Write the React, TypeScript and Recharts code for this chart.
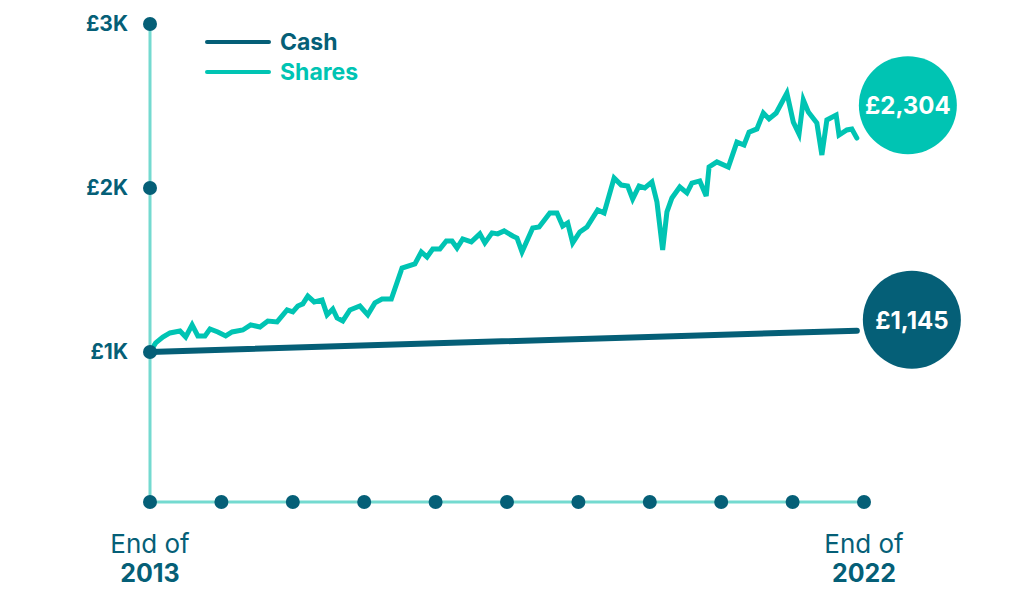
import { LineChart, Line, XAxis, YAxis, Legend } from 'recharts'

const DARK = '#055f77'
const TEAL = '#00c4b3'
const AXIS = '#74dad0'
const FONT = 'Inter, "Open Sans", sans-serif'

// x positions are in "dot" units: 0 = end of 2013, 10 = last axis dot
const sharesT = [
  0, 0.08, 0.18, 0.28, 0.42, 0.5, 0.59, 0.67, 0.77, 0.84, 0.95, 1.06, 1.15, 1.3, 1.41, 1.54, 1.65, 1.78, 1.92, 2.0,
  2.07, 2.14, 2.21, 2.3, 2.41, 2.48, 2.56, 2.62, 2.7, 2.8, 2.94, 3.05, 3.15, 3.25, 3.38, 3.53, 3.71, 3.8, 3.88, 3.96,
  4.06, 4.15, 4.23, 4.3, 4.38, 4.5, 4.62, 4.69, 4.79, 4.87, 4.96, 5.08, 5.14, 5.21, 5.36, 5.45, 5.6, 5.7, 5.78, 5.85,
  5.92, 6.02, 6.12, 6.27, 6.36, 6.5, 6.6, 6.69, 6.76, 6.85, 6.93, 7.03, 7.1, 7.18, 7.24, 7.31, 7.42, 7.52, 7.59, 7.7,
  7.79, 7.83, 7.94, 8.1, 8.22, 8.32, 8.39, 8.5, 8.59, 8.67, 8.77, 8.92, 9.01, 9.09, 9.15, 9.22, 9.34, 9.41, 9.48, 9.61,
  9.65, 9.76, 9.83, 9.9,
]
const sharesV = [
  1000, 1055, 1091, 1116, 1128, 1091, 1165, 1098, 1098, 1140, 1122, 1098, 1122, 1134, 1165, 1152, 1189, 1183, 1256, 1244,
  1280, 1293, 1341, 1305, 1317, 1226, 1262, 1207, 1189, 1256, 1280, 1226, 1299, 1323, 1323, 1512, 1537, 1610, 1579, 1628,
  1628, 1677, 1677, 1634, 1689, 1671, 1720, 1665, 1726, 1720, 1738, 1707, 1695, 1610, 1756, 1762, 1848, 1848, 1768, 1787,
  1665, 1732, 1762, 1866, 1848, 2061, 2018, 2012, 1933, 2012, 2000, 2037, 1915, 1622, 1854, 1939, 2006, 1970, 2030, 2043,
  1951, 2128, 2159, 2128, 2280, 2262, 2341, 2360, 2457, 2421, 2457, 2579, 2402, 2329, 2537, 2463, 2396, 2201, 2415, 2445,
  2323, 2354, 2360, 2304,
]
const cashT = [0, 9.9]
const cashV = [1000, 1130]

const xTicks = [0, 1, 2, 3, 4, 5, 6, 7, 8, 9, 10]
const yTicks = [1000, 2000, 3000]
const yLabels = ['£1K', '£2K', '£3K']
const endYears = ['2013', '2022']
const endLabels = ['£2,304', '£1,145']

const sharesData = sharesT.map((t, i) => ({ t, v: sharesV[i] }))
const cashData = cashT.map((t, i) => ({ t, v: cashV[i] }))

function XTick(props: any) {
  const { x, y, index } = props
  const last = index === xTicks.length - 1
  return (
    <g>
      <circle cx={x} cy={y} r={7} fill={DARK} />
      {(index === 0 || last) && (
        <text x={x} textAnchor="middle" fill={DARK} fontFamily={FONT}>
          <tspan x={x} y={y + 51} fontSize={26}>End of</tspan>
          <tspan x={x} y={y + 80} fontSize={25} fontWeight={700}>{endYears[last ? 1 : 0]}</tspan>
        </text>
      )}
    </g>
  )
}

function YTick(props: any) {
  const { x, y, index } = props
  return (
    <g>
      <circle cx={x} cy={y} r={7} fill={DARK} />
      <text x={x - 22} y={y + 7} textAnchor="end" fill={DARK} fontFamily={FONT} fontSize={21} fontWeight={700}>
        {yLabels[index]}
      </text>
    </g>
  )
}

function endBubble(text: string, color: string, dx: number, dy: number, count: number) {
  return (props: any) => {
    const { x, y, index } = props
    if (index !== count - 1) return null
    return (
      <g>
        <circle cx={x + dx} cy={y + dy} r={49} fill={color} />
        <text x={x + dx} y={y + dy + 9} textAnchor="middle" fill="#fff" fontFamily={FONT} fontSize={24} fontWeight={700}>
          {text}
        </text>
      </g>
    )
  }
}

function LegendBox() {
  const items = [
    { label: 'Cash', color: DARK },
    { label: 'Shares', color: TEAL },
  ]
  return (
    <div style={{ fontFamily: FONT }}>
      {items.map(it => (
        <div key={it.label} style={{ display: 'flex', alignItems: 'center', height: 30 }}>
          <div style={{ width: 66, height: 4, borderRadius: 2, background: it.color, marginRight: 9 }} />
          <span style={{ color: it.color, fontSize: 23, fontWeight: 700 }}>{it.label}</span>
        </div>
      ))}
    </div>
  )
}

export default function App() {
  return (
    <div style={{ position: 'absolute', left: 0, top: 0, width: 1024, height: 602, background: '#fff' }}>
      <LineChart width={1024} height={602} margin={{ top: 24, left: 149, right: 160, bottom: 99 }}>
        <XAxis
          type="number" dataKey="t" domain={[0, 10]} ticks={xTicks} height={1}
          axisLine={{ stroke: AXIS, strokeWidth: 3 }} tickLine={false} tickSize={0} tickMargin={0}
          tick={<XTick />} interval={0}
        />
        <YAxis
          type="number" dataKey="v" domain={[85, 3000]} ticks={yTicks} width={1}
          axisLine={{ stroke: AXIS, strokeWidth: 3 }} tickLine={false} tickSize={0} tickMargin={0}
          tick={<YTick />} interval={0}
        />
        <Legend
          layout="horizontal" verticalAlign="middle" align="center"
          wrapperStyle={{ top: 27, left: 205, width: 200 }}
          content={() => <LegendBox />}
        />
        <Line
          data={cashData} dataKey="v" type="linear" stroke={DARK} strokeWidth={6} strokeLinecap="round"
          dot={false} isAnimationActive={false}
          label={endBubble(endLabels[1], DARK, 55, -11, cashData.length)}
        />
        <Line
          data={sharesData} dataKey="v" type="linear" stroke={TEAL} strokeWidth={5} strokeLinecap="round"
          dot={false} isAnimationActive={false}
          label={endBubble(endLabels[0], TEAL, 51, -33, sharesData.length)}
        />
      </LineChart>
    </div>
  )
}
